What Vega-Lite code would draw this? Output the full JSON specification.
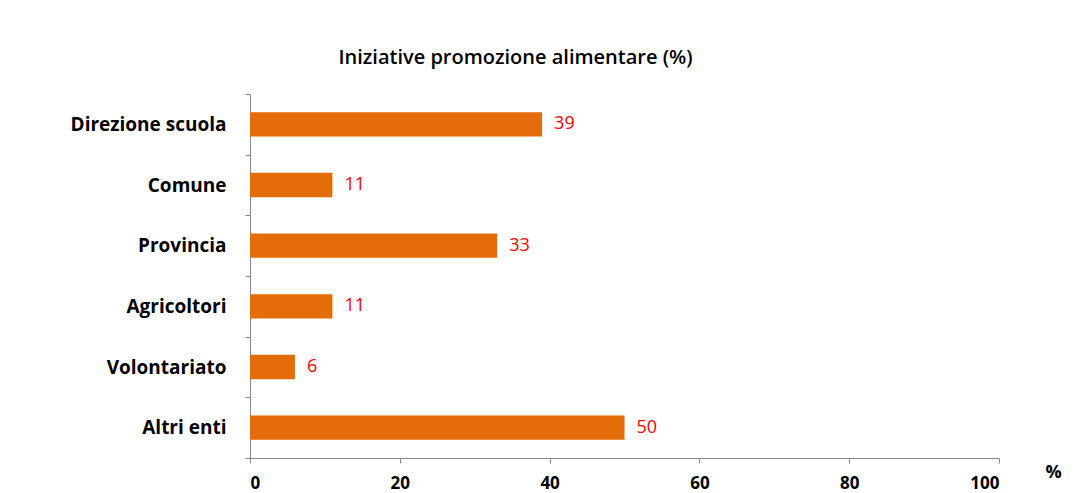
{
  "$schema": "https://vega.github.io/schema/vega-lite/v6.json",
  "autosize": "none",
  "width": 749,
  "height": 364,
  "padding": {"left": 250, "top": 94, "right": 80, "bottom": 35},
  "background": "white",
  "title": {
    "text": "Iniziative promozione alimentare (%)",
    "font": "Open Sans",
    "fontSize": 20,
    "fontWeight": 600,
    "color": "black",
    "anchor": "middle",
    "frame": "group",
    "dx": -109,
    "offset": 17
  },
  "data": {
    "values": [
      {"ente": "Direzione scuola", "pct": 39},
      {"ente": "Comune", "pct": 11},
      {"ente": "Provincia", "pct": 33},
      {"ente": "Agricoltori", "pct": 11},
      {"ente": "Volontariato", "pct": 6},
      {"ente": "Altri enti", "pct": 50}
    ]
  },
  "encoding": {
    "y": {
      "field": "ente",
      "type": "nominal",
      "sort": null,
      "scale": {"paddingInner": 0, "paddingOuter": 0},
      "axis": {
        "title": null,
        "tickBand": "extent",
        "tickSize": 5,
        "tickColor": "#888888",
        "domainColor": "#888888",
        "labelFont": "Open Sans",
        "labelFontSize": 19,
        "labelFontWeight": "bold",
        "labelColor": "black",
        "labelPadding": 19
      }
    },
    "x": {
      "field": "pct",
      "type": "quantitative",
      "scale": {"domain": [0, 100], "nice": false},
      "axis": {
        "values": [0, 20, 40, 60, 80, 100],
        "grid": false,
        "title": "%",
        "titleX": 803,
        "titleY": 19,
        "titleAlign": "center",
        "titleBaseline": "alphabetic",
        "titleFont": "Open Sans",
        "titleFontSize": 18,
        "titleFontWeight": "bold",
        "titleColor": "black",
        "tickSize": 5,
        "tickColor": "#888888",
        "domainColor": "#888888",
        "labelFont": "Open Sans",
        "labelFontSize": 17,
        "labelFontWeight": "bold",
        "labelColor": "black",
        "labelPadding": 12
      }
    }
  },
  "layer": [
    {"mark": {"type": "bar", "color": "#E46C0A", "height": {"band": 0.4}}},
    {
      "mark": {"type": "text", "align": "left", "baseline": "middle", "dx": 12, "color": "#FF0000", "font": "Open Sans", "fontSize": 18},
      "encoding": {"text": {"field": "pct", "type": "quantitative"}}
    }
  ],
  "config": {"view": {"stroke": null}}
}
